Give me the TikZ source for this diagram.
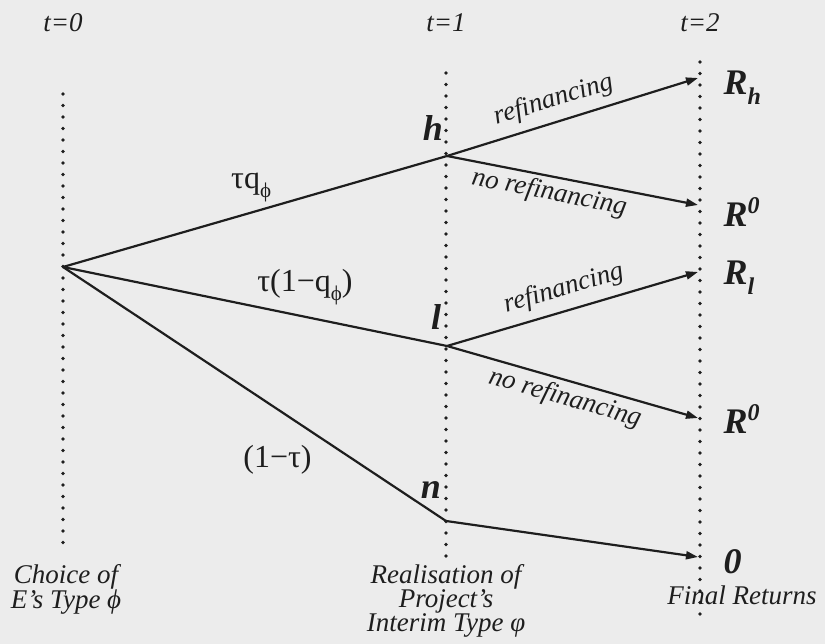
\documentclass[tikz,border=0pt]{standalone}
\usepackage{fontspec}
\setmainfont{Liberation Serif}
\usetikzlibrary{arrows.meta,positioning,calc}
\definecolor{paper}{RGB}{236,236,236}
\definecolor{ink}{RGB}{30,30,30}

\newcommand{\lowix}[1]{\raisebox{-0.28em}{\fontsize{24}{24}\selectfont #1}}
\newcommand{\upix}[1]{\raisebox{0.36em}{\fontsize{24}{24}\selectfont #1}}
\newcommand{\gsub}[1]{\raisebox{-0.3em}{\fontsize{21}{21}\selectfont #1}}

\begin{document}
\begin{tikzpicture}[x=1pt, y=1pt,
    timeline/.style={line width=3.6pt, line cap=round, dash pattern=on 0pt off 11.5pt, ink},
    branch/.style={line width=2.2pt, ink},
    arr/.style={branch, -{Triangle[length=12pt,width=8pt]}},
    period/.style={font=\fontsize{27}{27}\selectfont\itshape, anchor=base, text=ink},
    stage/.style={font=\fontsize{27}{24}\selectfont\itshape, align=center, anchor=north, inner sep=0pt, text=ink},
    choice/.style={font=\fontsize{27}{27}\selectfont\itshape, text=ink},
    prob/.style={font=\fontsize{32}{32}\selectfont, text=ink},
    typ/.style={font=\fontsize{36}{36}\selectfont\bfseries\itshape, text=ink},
    ret/.style={font=\fontsize{36}{36}\selectfont\bfseries\itshape, anchor=west, text=ink}
]
\fill[paper] (0,0) rectangle (825,644);
\useasboundingbox (0,0) rectangle (825,644);

% time axis
\coordinate (t0top) at (63,550);
\coordinate (t0bot) at (63,94);
\coordinate (t1top) at (446,571);
\coordinate (t1bot) at (446,87);
\coordinate (t2top) at (700,582);
\coordinate (t2bot) at (700,29);
\draw[timeline] (t0top) -- (t0bot);
\draw[timeline] (t1top) -- (t1bot);
\draw[timeline] (t2top) -- (t2bot);

\node[period] (p0) at (63,612) {t=0};
\node[period] (p1) at (446,612) {t=1};
\node[period] (p2) at (700,612) {t=2};

% tree
\coordinate (root) at (63,377);
\coordinate (h) at (447,488);
\coordinate (l) at (447,298);
\coordinate (n) at (446,123);
\coordinate (rh) at (698,566);
\coordinate (rha) at (698,439);
\coordinate (rl) at (698,372);
\coordinate (rla) at (698,226);
\coordinate (rn) at (698,87);

\draw[branch] (root) -- node[prob, pos=0.49, above=6pt] {τq\gsub{ϕ}} (h);
\draw[branch] (root) -- node[prob, pos=0.63, above=7pt] {τ(1−q\gsub{ϕ})} (l);
\draw[branch] (root) -- node[prob, pos=0.56, below=32pt] {(1−τ)} (n);

\draw[arr] (h) -- node[choice, pos=0.45, sloped, above=5pt] {refinancing} (rh);
\draw[arr] (h) -- node[choice, pos=0.42, sloped, below=0pt] {no refinancing} (rha);
\draw[arr] (l) -- node[choice, pos=0.49, sloped, above=5pt] {refinancing} (rl);
\draw[arr] (l) -- node[choice, pos=0.49, sloped, below=1pt] {no refinancing} (rla);
\draw[arr] (n) -- (rn);

\node[typ] (hlab) at ($(h)+(-14,28)$) {h};
\node[typ] (llab) at ($(l)+(-11,29)$) {l};
\node[typ] (nlab) at ($(n)+(-15,31)$) {n};

\node[ret] (Rh) at (720,556) {R\lowix{h}};
\node[ret] (Rha) at (720,432) {R\upix{0}};
\node[ret] (Rl) at (720,366) {R\lowix{l}};
\node[ret] (Rla) at (720,225) {R\upix{0}};
\node[ret] (zero) at (720,82) {0};

% stage descriptions
\node[stage] (choice) at (66,80) {Choice of\\E’s Type ϕ};
\node[stage] (real) at (446,80) {Realisation of\\Project’s\\Interim Type φ};
\node[stage] (final) at (742,58) {Final Returns};
\end{tikzpicture}
\end{document}
